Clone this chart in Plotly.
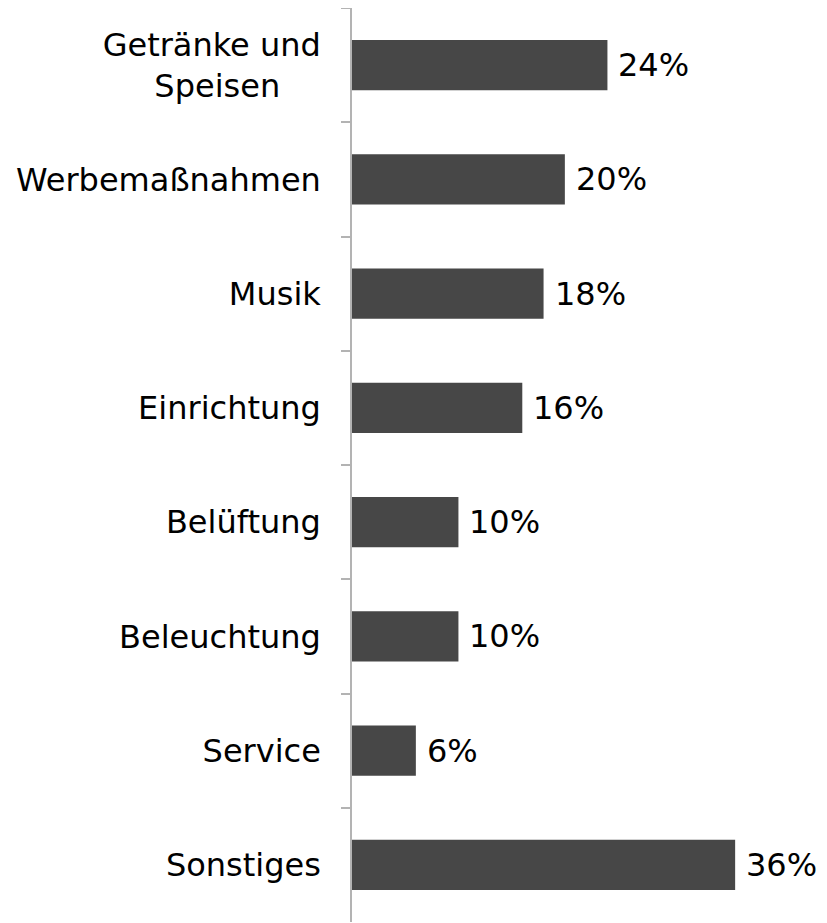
import plotly.graph_objects as go

categories = ["Getränke und<br>Speisen&nbsp;&nbsp;&nbsp;&nbsp;", "Werbemaßnahmen", "Musik", "Einrichtung",
              "Belüftung", "Beleuchtung", "Service", "Sonstiges"]
values = [24, 20, 18, 16, 10, 10, 6, 36]
value_labels = ["24%", "20%", "18%", "16%", "10%", "10%", "6%", "36%"]

FONT = "DejaVu Sans, Liberation Sans, Arial, sans-serif"

fig = go.Figure()
fig.add_trace(go.Bar(
    x=values, y=categories, orientation="h",
    marker=dict(color="#474747", line=dict(width=0)),
    hoverinfo="skip",
))

for v, c, t in zip(values, categories, value_labels):
    fig.add_annotation(x=v, y=c, text=t, showarrow=False, xanchor="left",
                       yanchor="middle", xshift=9,
                       font=dict(family=FONT, size=32, color="#000000"))

fig.update_layout(
    width=827, height=923,
    margin=dict(l=344, r=36, t=0, b=9),
    paper_bgcolor="white", plot_bgcolor="white",
    bargap=0.56,
    showlegend=False,
    font=dict(family=FONT, size=32, color="#000000"),
    xaxis=dict(range=[0, 42], visible=False, fixedrange=True),
    yaxis=dict(
        categoryorder="array", categoryarray=categories, autorange="reversed",
        showline=True, linecolor="#b3b3b3", linewidth=1.5,
        ticks="outside", ticklen=9, tickcolor="#b3b3b3", tickwidth=1.5,
        tickson="boundaries", showgrid=False, zeroline=False,
        ticklabelstandoff=23,
        tickfont=dict(family=FONT, size=32, color="#000000"),
    ),
)

fig.write_html("out.html")
